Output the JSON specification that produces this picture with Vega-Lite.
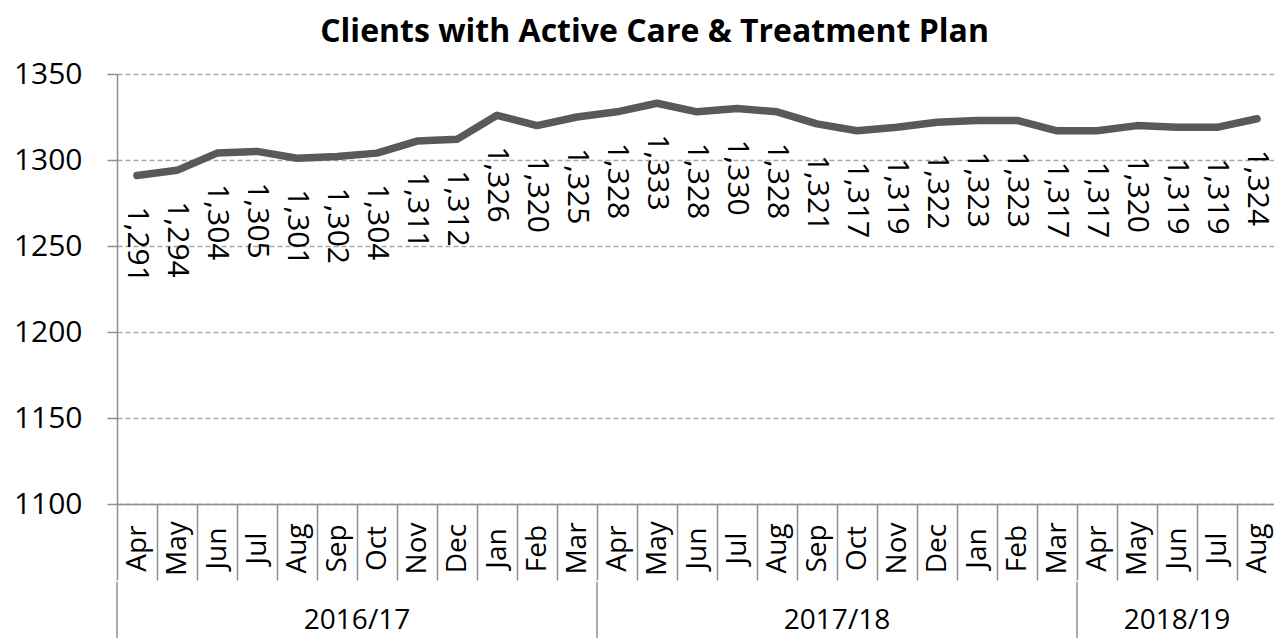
{
  "$schema": "https://vega.github.io/schema/vega-lite/v6.json",
  "padding": {"left": 13, "top": 16, "right": 0, "bottom": 0},
  "background": "white",
  "config": {
    "view": {"stroke": null},
    "font": "Open Sans",
    "text": {"font": "Open Sans"}
  },
  "title": {
    "text": "Clients with Active Care & Treatment Plan",
    "font": "Open Sans",
    "fontSize": 32,
    "fontWeight": "bold",
    "color": "#000000",
    "anchor": "middle",
    "frame": "bounds",
    "dx": 9,
    "offset": 10
  },
  "data": {
    "values": [
      {"fy": "2016/17", "period": "2016/17 Apr", "value": 1291},
      {"fy": "2016/17", "period": "2016/17 May", "value": 1294},
      {"fy": "2016/17", "period": "2016/17 Jun", "value": 1304},
      {"fy": "2016/17", "period": "2016/17 Jul", "value": 1305},
      {"fy": "2016/17", "period": "2016/17 Aug", "value": 1301},
      {"fy": "2016/17", "period": "2016/17 Sep", "value": 1302},
      {"fy": "2016/17", "period": "2016/17 Oct", "value": 1304},
      {"fy": "2016/17", "period": "2016/17 Nov", "value": 1311},
      {"fy": "2016/17", "period": "2016/17 Dec", "value": 1312},
      {"fy": "2016/17", "period": "2016/17 Jan", "value": 1326},
      {"fy": "2016/17", "period": "2016/17 Feb", "value": 1320},
      {"fy": "2016/17", "period": "2016/17 Mar", "value": 1325},
      {"fy": "2017/18", "period": "2017/18 Apr", "value": 1328},
      {"fy": "2017/18", "period": "2017/18 May", "value": 1333},
      {"fy": "2017/18", "period": "2017/18 Jun", "value": 1328},
      {"fy": "2017/18", "period": "2017/18 Jul", "value": 1330},
      {"fy": "2017/18", "period": "2017/18 Aug", "value": 1328},
      {"fy": "2017/18", "period": "2017/18 Sep", "value": 1321},
      {"fy": "2017/18", "period": "2017/18 Oct", "value": 1317},
      {"fy": "2017/18", "period": "2017/18 Nov", "value": 1319},
      {"fy": "2017/18", "period": "2017/18 Dec", "value": 1322},
      {"fy": "2017/18", "period": "2017/18 Jan", "value": 1323},
      {"fy": "2017/18", "period": "2017/18 Feb", "value": 1323},
      {"fy": "2017/18", "period": "2017/18 Mar", "value": 1317},
      {"fy": "2018/19", "period": "2018/19 Apr", "value": 1317},
      {"fy": "2018/19", "period": "2018/19 May", "value": 1320},
      {"fy": "2018/19", "period": "2018/19 Jun", "value": 1319},
      {"fy": "2018/19", "period": "2018/19 Jul", "value": 1319},
      {"fy": "2018/19", "period": "2018/19 Aug", "value": 1324}
    ]
  },
  "spacing": 0,
  "vconcat": [
    {
      "width": 1160,
      "height": 430,
      "encoding": {
        "x": {
          "field": "period",
          "type": "ordinal",
          "sort": null,
          "scale": {"type": "band", "paddingInner": 0, "paddingOuter": 0},
          "axis": {
            "title": null,
            "labelExpr": "split(datum.value, ' ')[1]",
            "labelAngle": -90,
            "labelAlign": "center",
            "labelBaseline": "middle",
            "labelPadding": -32,
            "labelFontSize": 28,
            "labelFont": "Open Sans",
            "labelColor": "#000000",
            "labelOverlap": false,
            "labelBound": false,
            "labelFlush": false,
            "tickBand": "extent",
            "tickSize": 76,
            "tickColor": "#8f8f8f",
            "tickWidth": 1.5,
            "domainColor": "#8f8f8f",
            "domainWidth": 1.5,
            "grid": false
          }
        },
        "y": {
          "field": "value",
          "type": "quantitative",
          "scale": {"domain": [1100, 1350], "nice": false, "zero": false},
          "axis": {
            "title": null,
            "format": "d",
            "values": [1100, 1150, 1200, 1250, 1300, 1350],
            "labelFontSize": 30,
            "labelFont": "Open Sans",
            "labelColor": "#000000",
            "labelPadding": 25,
            "tickSize": 10,
            "tickColor": "#8f8f8f",
            "tickWidth": 1.5,
            "domainColor": "#8f8f8f",
            "domainWidth": 1.5,
            "grid": true,
            "gridColor": "#a6a6a6",
            "gridDash": [5, 3],
            "gridWidth": 1.3
          }
        }
      },
      "layer": [
        {
          "mark": {"type": "line", "color": "#595959", "strokeWidth": 7.5, "strokeCap": "round", "strokeJoin": "round"}
        },
        {
          "mark": {"type": "text", "angle": 90, "align": "left", "baseline": "middle", "dx": 31, "fontSize": 30, "font": "Open Sans", "color": "#000000"},
          "encoding": {"text": {"field": "value", "type": "quantitative", "format": ","}}
        }
      ]
    },
    {
      "width": 1160,
      "height": 78,
      "transform": [
        {"window": [{"op": "row_number", "as": "rn"}]},
        {"aggregate": [{"op": "min", "field": "rn", "as": "first"}, {"op": "mean", "field": "rn", "as": "mid"}], "groupby": ["fy"]}
      ],
      "layer": [
        {
          "mark": {"type": "rule", "color": "#8f8f8f", "strokeWidth": 1.5, "xOffset": -20},
          "encoding": {
            "x": {"field": "first", "type": "quantitative", "scale": {"domain": [0.5, 29.5], "nice": false, "zero": false}, "axis": null}
          }
        },
        {
          "mark": {"type": "text", "fontSize": 28, "font": "Open Sans", "color": "#000000", "baseline": "middle", "align": "center"},
          "encoding": {
            "x": {"field": "mid", "type": "quantitative", "scale": {"domain": [0.5, 29.5], "nice": false, "zero": false}, "axis": null},
            "text": {"field": "fy", "type": "nominal"}
          }
        }
      ]
    }
  ]
}
